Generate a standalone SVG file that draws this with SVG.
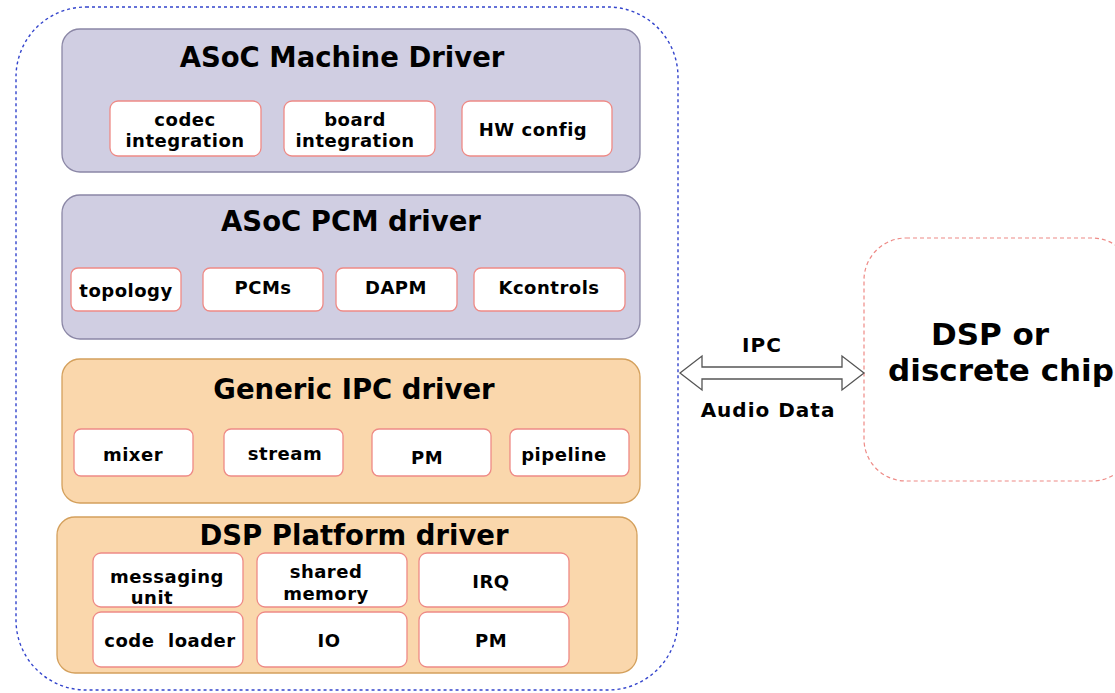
<svg xmlns="http://www.w3.org/2000/svg" width="1115" height="693" viewBox="0 0 1115 693">
<style>
text{font-family:"DejaVu Sans","Verdana",sans-serif;font-weight:bold;fill:#000;text-anchor:middle}
.t{font-size:27.5px}
.s{font-size:18px;letter-spacing:0.5px}
.big{font-size:31px}
.lab{font-size:20px;letter-spacing:1px}
.pur{fill:#d0cee2;stroke:#8b87a6;stroke-width:1.3}
.org{fill:#fad7ac;stroke:#d4a05c;stroke-width:1.3}
.sub{fill:#fff;stroke:#ee8a86;stroke-width:1.3}
</style>
<g id="host">
<rect x="16" y="7" width="662" height="683" rx="70" fill="none" stroke="#3344cc" stroke-width="1.4" stroke-dasharray="3 3"/>
</g>
<g id="machine">
<rect class="pur" x="62" y="29" width="578" height="143" rx="18"/>
<text class="t" x="342" y="67">ASoC Machine Driver</text>
<g id="codec"><rect class="sub" x="110" y="101" width="151" height="55" rx="8"/><text class="s" x="185" y="126">codec</text><text class="s" x="185" y="147">integration</text></g>
<g id="board"><rect class="sub" x="284" y="101" width="151" height="55" rx="8"/><text class="s" x="355" y="126">board</text><text class="s" x="355" y="147">integration</text></g>
<g id="hwconfig"><rect class="sub" x="462" y="101" width="150" height="55" rx="8"/><text class="s" x="533" y="136">HW config</text></g>
</g>
<g id="pcm">
<rect class="pur" x="62" y="195" width="578" height="144" rx="18"/>
<text class="t" x="351" y="231">ASoC PCM driver</text>
<g id="topology"><rect class="sub" x="71" y="268" width="110" height="43" rx="7"/><text class="s" x="126" y="297">topology</text></g>
<g id="pcms"><rect class="sub" x="203" y="268" width="120" height="43" rx="7"/><text class="s" x="263" y="294">PCMs</text></g>
<g id="dapm"><rect class="sub" x="336" y="268" width="121" height="43" rx="7"/><text class="s" x="396" y="294">DAPM</text></g>
<g id="kcontrols"><rect class="sub" x="474" y="268" width="151" height="43" rx="7"/><text class="s" x="549" y="294">Kcontrols</text></g>
</g>
<g id="ipc">
<rect class="org" x="62" y="359" width="578" height="144" rx="18"/>
<text class="t" x="354" y="399">Generic IPC driver</text>
<g id="mixer"><rect class="sub" x="74" y="429" width="119" height="47" rx="7"/><text class="s" x="133" y="461">mixer</text></g>
<g id="stream"><rect class="sub" x="224" y="429" width="119" height="47" rx="7"/><text class="s" x="285" y="460">stream</text></g>
<g id="pm1"><rect class="sub" x="372" y="429" width="119" height="47" rx="7"/><text class="s" x="427" y="464">PM</text></g>
<g id="pipeline"><rect class="sub" x="510" y="429" width="119" height="47" rx="7"/><text class="s" x="564" y="461">pipeline</text></g>
</g>
<g id="platform">
<rect class="org" x="57" y="517" width="580" height="156" rx="18"/>
<text class="t" x="354" y="545">DSP Platform driver</text>
<g id="messaging"><rect class="sub" x="93" y="553" width="150" height="54" rx="8"/><text class="s" x="167" y="583">messaging</text><text class="s" x="152" y="604">unit</text></g>
<g id="shared"><rect class="sub" x="257" y="553" width="150" height="54" rx="8"/><text class="s" x="326" y="578">shared</text><text class="s" x="326" y="600">memory</text></g>
<g id="irq"><rect class="sub" x="419" y="553" width="150" height="54" rx="8"/><text class="s" x="491" y="588">IRQ</text></g>
<g id="loader"><rect class="sub" x="93" y="612" width="150" height="55" rx="8"/><text class="s" x="170" y="647" xml:space="preserve">code  loader</text></g>
<g id="io"><rect class="sub" x="257" y="612" width="150" height="55" rx="8"/><text class="s" x="329" y="647">IO</text></g>
<g id="pm2"><rect class="sub" x="419" y="612" width="150" height="55" rx="8"/><text class="s" x="491" y="647">PM</text></g>
</g>
<g id="dsp">
<rect x="864" y="238" width="270" height="243" rx="42" fill="none" stroke="#ee8a86" stroke-width="1.2" stroke-dasharray="4 3"/>
<text class="big" x="990" y="345">DSP or</text>
<text class="big" x="1001" y="381">discrete chip</text>
</g>
<g id="connectors">
<path d="M680,373 L702,356 L702,367 L842,367 L842,356 L864,373 L842,390 L842,379 L702,379 L702,390 Z" fill="#fff" stroke="#555" stroke-width="1.3" stroke-linejoin="miter"/>
<text class="lab" x="762" y="352">IPC</text>
<text class="lab" x="768" y="417">Audio Data</text>
</g>
</svg>
